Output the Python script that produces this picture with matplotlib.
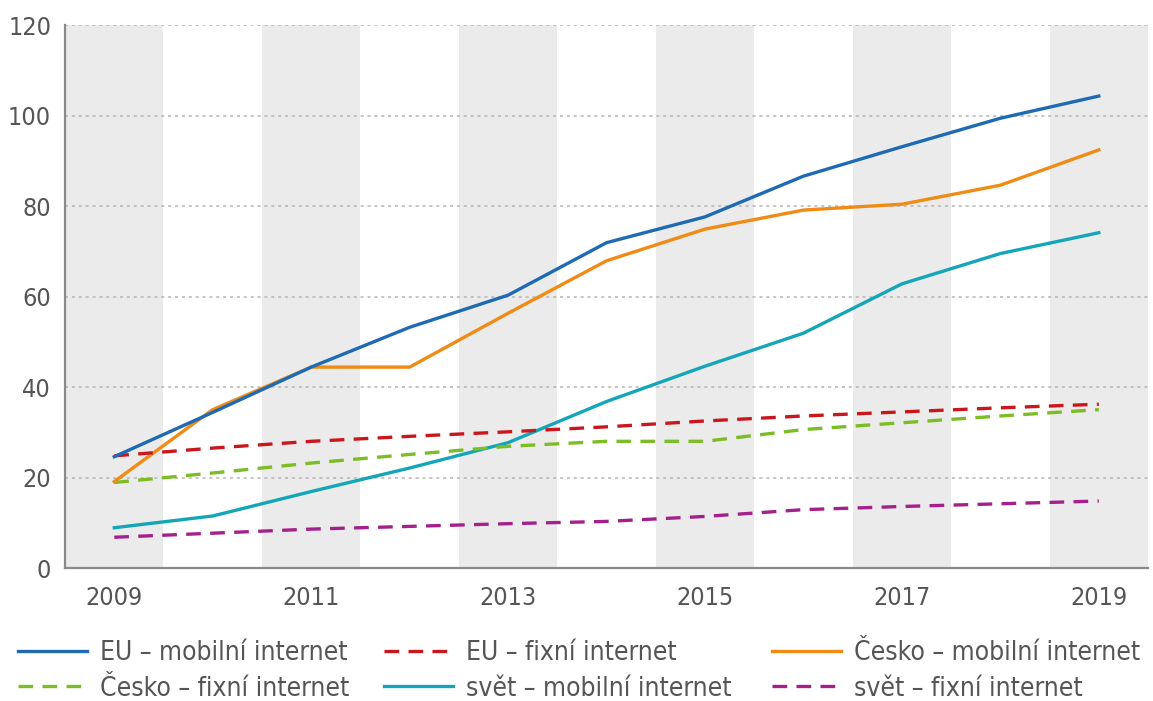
import matplotlib
matplotlib.use("Agg")
import matplotlib.pyplot as plt
from matplotlib import font_manager

years = [2009, 2010, 2011, 2012, 2013, 2014, 2015, 2016, 2017, 2018, 2019]

eu_mobile = [24.6, 34.4, 44.4, 53.2, 60.3, 71.9, 77.6, 86.6, 93.1, 99.4, 104.3]
eu_fixed = [24.8, 26.5, 28.0, 29.1, 30.1, 31.2, 32.5, 33.6, 34.5, 35.4, 36.2]
cz_mobile = [19.1, 35.0, 44.4, 44.4, 56.3, 67.9, 74.9, 79.1, 80.4, 84.6, 92.4]
cz_fixed = [18.9, 21.0, 23.2, 25.1, 26.9, 28.0, 28.0, 30.6, 32.1, 33.6, 35.0]
world_mobile = [8.9, 11.5, 16.9, 22.1, 27.7, 36.8, 44.6, 51.9, 62.8, 69.5, 74.1]
world_fixed = [6.8, 7.7, 8.6, 9.2, 9.8, 10.3, 11.4, 12.9, 13.6, 14.2, 14.8]

labels = ["EU – mobilní internet", "EU – fixní internet", "Česko – mobilní internet",
          "Česko – fixní internet", "svět – mobilní internet", "svět – fixní internet"]
yticks = [0, 20, 40, 60, 80, 100, 120]
xticks = [2009, 2011, 2013, 2015, 2017, 2019]

installed = {f.name for f in font_manager.fontManager.ttflist}
fam = [f for f in ["Liberation Sans Narrow", "DejaVu Sans"] if f in installed]
plt.rcParams['font.family'] = fam
stretch = 'normal' if fam[0] == "Liberation Sans Narrow" else 'condensed'

fig = plt.figure(figsize=(11.53, 7.01), dpi=100)
ax = fig.add_axes([0.0564, 0.1897, 0.9393, 0.7746])

# alternating bands
for i, y in enumerate(years):
    if i % 2 == 0:
        ax.axvspan(y - 0.5, y + 0.5, color="#ebebeb", lw=0, zorder=0)

for yv in yticks[1:]:
    ax.axhline(yv, color="#b5b5b5", lw=1.1, ls=(0, (2, 2.5)), zorder=1)

lw = 2.4
dash = (0, (4.4, 2.8))
series = [
    (eu_mobile, "#1e6ab4", '-'),
    (eu_fixed, "#c9171e", dash),
    (cz_mobile, "#f08b16", '-'),
    (cz_fixed, "#7cbd26", dash),
    (world_mobile, "#14a6b8", '-'),
    (world_fixed, "#a4218b", dash),
]
order = [5, 3, 1, 4, 2, 0]
handles = [None] * 6
for i in order:
    vals, c, ls = series[i]
    h, = ax.plot(years, vals, color=c, lw=lw, ls=ls, label=labels[i], zorder=3 + (6 - i))
    handles[i] = h

ax.set_xlim(2008.5, 2019.5)
ax.set_ylim(0, 120)
ax.set_xticks(xticks)
ax.set_yticks(yticks)
ax.tick_params(length=0, labelsize=18, colors="#555555", pad=10)
for t in ax.get_xticklabels() + ax.get_yticklabels():
    t.set_fontstretch(stretch)
ax.tick_params(axis='x', pad=13)

for s in ["top", "right"]:
    ax.spines[s].set_visible(False)
for s in ["left", "bottom"]:
    ax.spines[s].set_color("#8a8a8a")
    ax.spines[s].set_linewidth(1.6)

# legend: three columns, row-major order as in the reference
col_x = [18, 384, 772]
cols = [[0, 3], [1, 4], [2, 5]]
W, H = 1153, 701
for cx, idx in zip(col_x, cols):
    lg = fig.legend(handles=[handles[k] for k in idx], labels=[labels[k] for k in idx],
                    loc="upper left", bbox_to_anchor=(cx / W, 1 - 640 / H),
                    frameon=False, borderpad=0, borderaxespad=0,
                    prop={'size': 19, 'stretch': stretch}, handlelength=2.6,
                    handletextpad=0.5, labelspacing=0.36, labelcolor="#555555")

fig.savefig("out.png", dpi=100)
